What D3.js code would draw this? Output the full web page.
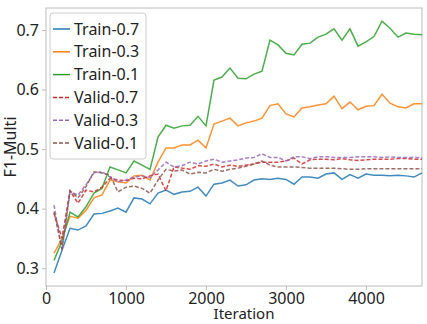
<!DOCTYPE html>
<html>
<head>
    <script src="https://d3js.org/d3.v7.min.js"></script>
    <style>
        body { margin: 0; background: #fff; }
        text { font-family: "Noto Sans", sans-serif; fill: #222; }
        .axis path, .axis line { stroke: #bbb; }
        .axis text { font-size: 16px; fill: #222; }
    </style>
</head>
<body>
<div id="chart"></div>
<script>
    // x values: every 100 iterations
    var iterations = d3.range(100, 4701, 100);

    var train07 = [0.292, 0.330, 0.367, 0.364, 0.371, 0.391, 0.392, 0.396, 0.401, 0.394,
        0.418, 0.416, 0.408, 0.426, 0.431, 0.424, 0.428, 0.429, 0.436, 0.421,
        0.441, 0.443, 0.448, 0.438, 0.440, 0.448, 0.450, 0.449, 0.451, 0.449,
        0.441, 0.453, 0.453, 0.451, 0.458, 0.460, 0.449, 0.457, 0.451, 0.458,
        0.456, 0.456, 0.455, 0.456, 0.455, 0.453, 0.460];
    var train03 = [0.325, 0.350, 0.387, 0.384, 0.397, 0.418, 0.423, 0.448, 0.445, 0.443,
        0.455, 0.456, 0.448, 0.478, 0.502, 0.502, 0.507, 0.507, 0.515, 0.502,
        0.542, 0.547, 0.552, 0.539, 0.544, 0.547, 0.552, 0.573, 0.576, 0.559,
        0.554, 0.569, 0.571, 0.574, 0.576, 0.589, 0.568, 0.579, 0.566, 0.572,
        0.573, 0.592, 0.577, 0.571, 0.569, 0.576, 0.576];
    var train01 = [0.313, 0.345, 0.394, 0.386, 0.403, 0.426, 0.434, 0.470, 0.465, 0.460,
        0.480, 0.473, 0.466, 0.520, 0.540, 0.535, 0.539, 0.540, 0.555, 0.539,
        0.616, 0.621, 0.636, 0.619, 0.618, 0.626, 0.631, 0.683, 0.675, 0.661,
        0.658, 0.676, 0.678, 0.688, 0.693, 0.702, 0.683, 0.702, 0.673, 0.680,
        0.689, 0.715, 0.703, 0.688, 0.695, 0.693, 0.692];
    var valid07 = [0.392, 0.350, 0.430, 0.409, 0.431, 0.428, 0.436, 0.451, 0.448, 0.447,
        0.451, 0.450, 0.455, 0.458, 0.430, 0.470, 0.468, 0.466, 0.472, 0.471,
        0.475, 0.470, 0.473, 0.471, 0.473, 0.475, 0.478, 0.478, 0.478, 0.480,
        0.485, 0.475, 0.482, 0.483, 0.483, 0.482, 0.484, 0.482, 0.481, 0.482,
        0.483, 0.483, 0.483, 0.484, 0.484, 0.483, 0.483];
    var valid03 = [0.406, 0.330, 0.428, 0.423, 0.440, 0.460, 0.462, 0.453, 0.445, 0.448,
        0.453, 0.455, 0.452, 0.465, 0.478, 0.470, 0.472, 0.478, 0.475, 0.480,
        0.483, 0.478, 0.480, 0.482, 0.485, 0.486, 0.492, 0.486, 0.486, 0.480,
        0.487, 0.487, 0.484, 0.487, 0.487, 0.486, 0.486, 0.486, 0.487, 0.487,
        0.487, 0.486, 0.487, 0.486, 0.486, 0.486, 0.485];
    var valid01 = [0.395, 0.332, 0.430, 0.418, 0.437, 0.462, 0.460, 0.456, 0.428, 0.436,
        0.438, 0.434, 0.426, 0.448, 0.466, 0.463, 0.465, 0.458, 0.461, 0.460,
        0.466, 0.463, 0.466, 0.468, 0.471, 0.475, 0.480, 0.473, 0.470, 0.470,
        0.470, 0.469, 0.468, 0.468, 0.468, 0.468, 0.467, 0.466, 0.466, 0.467,
        0.467, 0.467, 0.467, 0.467, 0.467, 0.467, 0.467];

    var seriesNames = ["Train-0.7", "Train-0.3", "Train-0.1", "Valid-0.7", "Valid-0.3", "Valid-0.1"];
    var seriesValues = [train07, train03, train01, valid07, valid03, valid01];
    var seriesColors = ["#1f77b4", "#ff7f0e", "#2ca02c", "#d62728", "#9467bd", "#8c564b"];
    var seriesDashed = [false, false, false, true, true, true];

    var xTicks = [0, 1000, 2000, 3000, 4000];
    var yTicks = [0.3, 0.4, 0.5, 0.6, 0.7];

    var width = 427, height = 324;
    var margin = { top: 8, right: 5, bottom: 38, left: 46 };

    var svg = d3.select("#chart").append("svg")
        .attr("width", width)
        .attr("height", height);

    var x = d3.scaleLinear().domain([0, 4700]).range([margin.left, width - margin.right]);
    var y = d3.scaleLinear().domain([0.27, 0.737]).range([height - margin.bottom, margin.top]);

    // axes
    svg.append("g")
        .attr("class", "axis")
        .attr("transform", "translate(0," + (height - margin.bottom) + ")")
        .call(d3.axisBottom(x).tickValues(xTicks).tickSize(4).tickPadding(3).tickFormat(d3.format("d")))
        .call(g => g.select(".domain").remove());

    svg.append("g")
        .attr("class", "axis")
        .attr("transform", "translate(" + margin.left + ",0)")
        .call(d3.axisLeft(y).tickValues(yTicks).tickSize(4).tickPadding(3).tickFormat(d3.format(".1f")))
        .call(g => g.select(".domain").remove());

    // frame
    svg.append("rect")
        .attr("x", margin.left)
        .attr("y", margin.top)
        .attr("width", width - margin.right - margin.left)
        .attr("height", height - margin.bottom - margin.top)
        .attr("fill", "none")
        .attr("stroke", "#bbb")
        .attr("stroke-width", 1);

    // lines
    var line = d3.line()
        .x((d, i) => x(iterations[i]))
        .y(d => y(d));

    seriesValues.forEach((vals, k) => {
        svg.append("path")
            .datum(vals)
            .attr("fill", "none")
            .attr("stroke", seriesColors[k])
            .attr("stroke-width", 1.5)
            .attr("stroke-opacity", 0.85)
            .attr("stroke-dasharray", seriesDashed[k] ? "4,2" : null)
            .attr("d", line);
    });

    // axis labels
    svg.append("text")
        .attr("x", 244)
        .attr("y", 319)
        .attr("text-anchor", "middle")
        .style("font-size", "15px")
        .text("Iteration");

    svg.append("text")
        .attr("transform", "translate(16," + ((margin.top + height - margin.bottom) / 2) + ") rotate(-90)")
        .attr("text-anchor", "middle")
        .style("font-size", "16px")
        .text("F1-Multi");

    // legend
    var legend = svg.append("g");
    legend.append("rect")
        .attr("x", 50)
        .attr("y", 13)
        .attr("width", 96)
        .attr("height", 146)
        .attr("rx", 3)
        .attr("fill", "#fff")
        .attr("fill-opacity", 0.8)
        .attr("stroke", "#ccc");

    seriesNames.forEach((name, k) => {
        var ly = 29 + k * 22.8;
        legend.append("line")
            .attr("x1", 53).attr("x2", 70)
            .attr("y1", ly).attr("y2", ly)
            .attr("stroke", seriesColors[k])
            .attr("stroke-width", 1.5)
            .attr("stroke-dasharray", seriesDashed[k] ? "4,2" : null);
        legend.append("text")
            .attr("x", 74)
            .attr("y", ly + 5.5)
            .style("font-size", "16px")
            .text(name);
    });
</script>
</body>
</html>
